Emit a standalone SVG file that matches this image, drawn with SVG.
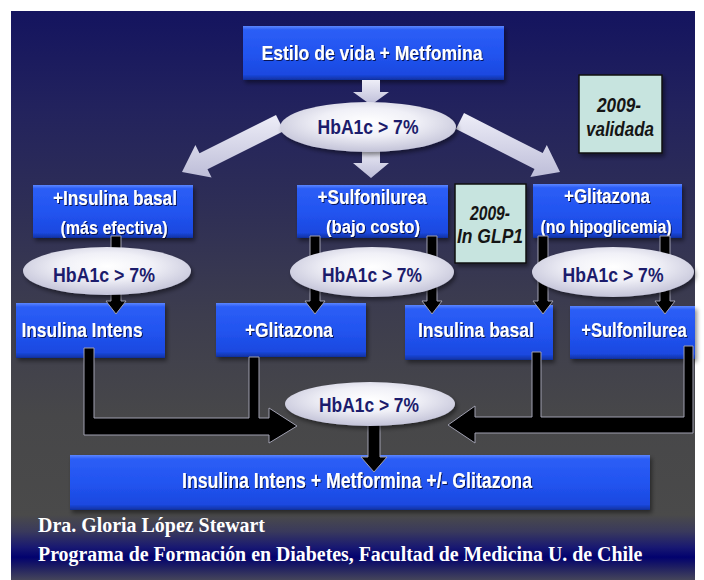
<svg xmlns="http://www.w3.org/2000/svg" width="704" height="580" viewBox="0 0 704 580">
<defs>
<linearGradient id="bg" x1="0" y1="0" x2="0" y2="1">
<stop offset="0" stop-color="#14145f"/>
<stop offset="0.2" stop-color="#23235d"/>
<stop offset="0.4" stop-color="#2f2f55"/>
<stop offset="0.6" stop-color="#3d3d4e"/>
<stop offset="0.8" stop-color="#474749"/>
<stop offset="1" stop-color="#4a4a4a"/>
</linearGradient>
<linearGradient id="band" x1="0" y1="0" x2="0" y2="1">
<stop offset="0" stop-color="#4a4a4a"/>
<stop offset="0.25" stop-color="#3a3a5c"/>
<stop offset="0.5" stop-color="#181872"/>
<stop offset="0.65" stop-color="#02026e"/>
<stop offset="0.8" stop-color="#1e1e62"/>
<stop offset="1" stop-color="#45455a"/>
</linearGradient>
<linearGradient id="blue" x1="0" y1="0" x2="0" y2="1">
<stop offset="0" stop-color="#5a86ff"/>
<stop offset="0.07" stop-color="#2c5ef6"/>
<stop offset="0.5" stop-color="#2254f0"/>
<stop offset="0.9" stop-color="#1b49e0"/>
<stop offset="1" stop-color="#10309e"/>
</linearGradient>
<radialGradient id="ell" cx="0.5" cy="0.4" r="0.62">
<stop offset="0" stop-color="#ffffff"/>
<stop offset="0.45" stop-color="#f0f0f7"/>
<stop offset="1" stop-color="#c0c0d6"/>
</radialGradient>
<linearGradient id="light" x1="0" y1="0" x2="0" y2="1">
<stop offset="0" stop-color="#eeeef8"/>
<stop offset="1" stop-color="#bdbdd8"/>
</linearGradient>
<filter id="sh" x="-10%" y="-15%" width="125%" height="140%">
<feDropShadow dx="2" dy="3" stdDeviation="2" flood-color="#000" flood-opacity="0.45"/>
</filter>
<filter id="ts" x="-5%" y="-20%" width="112%" height="150%">
<feDropShadow dx="1" dy="1" stdDeviation="0.7" flood-color="#000020" flood-opacity="0.75"/>
</filter>
</defs>
<style>
.box{fill:url(#blue);filter:url(#sh)}
.t{font-family:"Liberation Sans Narrow","Liberation Sans",Arial,sans-serif;font-weight:bold;fill:#fff;text-anchor:middle;filter:url(#ts)}
.t1{font-size:21px}
.t2{font-size:18px}
.el{fill:url(#ell);filter:url(#sh)}
.et{font-family:"Liberation Sans Narrow","Liberation Sans",Arial,sans-serif;font-weight:bold;font-size:21px;fill:#1c1c6c;text-anchor:middle}
.note{fill:#c7e4df;stroke:#111;stroke-width:1.5;filter:url(#sh)}
.nt{font-family:"Liberation Sans Narrow","Liberation Sans",Arial,sans-serif;font-weight:bold;font-style:italic;font-size:21px;fill:#151515;text-anchor:middle}
.la{fill:url(#light)}
.ba{fill:#000;stroke:#a0a0b0;stroke-width:1}
.ft{font-family:"Liberation Serif","Times New Roman",serif;font-weight:bold;font-size:22px;fill:#fff}
</style>
<rect x="0" y="0" width="704" height="580" fill="#fff"/>
<rect x="11" y="11" width="684" height="506" fill="url(#bg)"/>
<rect x="11" y="515" width="684" height="65" fill="url(#band)"/>

<g id="n-top">
<rect class="box" x="243" y="26" width="261" height="54"/>
<text class="t" x="372" y="60" font-size="21" textLength="221" lengthAdjust="spacingAndGlyphs">Estilo de vida + Metfomina</text>
</g>
<g id="n-ins-basal">
<rect class="box" x="33" y="185" width="160" height="53"/>
<text class="t t1" x="115" y="205" textLength="124" lengthAdjust="spacingAndGlyphs">+Insulina basal</text>
<text class="t t2" x="114" y="234" textLength="107" lengthAdjust="spacingAndGlyphs">(más efectiva)</text>
</g>
<g id="n-sulfo">
<rect class="box" x="297" y="185" width="151" height="53"/>
<text class="t t1" x="372" y="204" textLength="109" lengthAdjust="spacingAndGlyphs">+Sulfonilurea</text>
<text class="t t2" x="373" y="233" textLength="94" lengthAdjust="spacingAndGlyphs">(bajo costo)</text>
</g>
<g id="n-glit">
<rect class="box" x="533" y="184" width="149" height="54"/>
<text class="t t1" x="607" y="203" textLength="86" lengthAdjust="spacingAndGlyphs">+Glitazona</text>
<text class="t t2" x="606" y="233" textLength="131" lengthAdjust="spacingAndGlyphs">(no hipoglicemia)</text>
</g>
<g id="n-ins-intens">
<rect class="box" x="16" y="303" width="149" height="55"/>
<text class="t t1" x="82" y="337" textLength="121" lengthAdjust="spacingAndGlyphs">Insulina Intens</text>
</g>
<g id="n-glit2">
<rect class="box" x="216" y="303" width="150" height="54"/>
<text class="t t1" x="289" y="337" textLength="88" lengthAdjust="spacingAndGlyphs">+Glitazona</text>
</g>
<g id="n-ins-basal2">
<rect class="box" x="405" y="305" width="148" height="55"/>
<text class="t t1" x="476" y="337" textLength="116" lengthAdjust="spacingAndGlyphs">Insulina basal</text>
</g>
<g id="n-sulfo2">
<rect class="box" x="570" y="306" width="125" height="53"/>
<text class="t t1" transform="translate(634,337) scale(0.8,1)" x="0" y="0" textLength="132" lengthAdjust="spacingAndGlyphs">+Sulfonilurea</text>
</g>
<g id="n-final">
<rect class="box" x="70" y="455" width="580" height="55"/>
<text class="t" x="357" y="488" font-size="22" textLength="350" lengthAdjust="spacingAndGlyphs">Insulina Intens + Metformina +/- Glitazona</text>
</g>

<g id="connectors">
<polygon class="la" points="362,80 380,80 380,92 389,92 371,105 353,92 362,92"/>
<polygon class="la" points="284,131 207.5,169.3 211.6,177.4 182,172 195.4,145.1 199.5,153.2 276,115"/>
<polygon class="la" points="456,129 534.5,169.1 530.4,177.1 560,172 546.8,145.1 542.7,153.1 464,113"/>
<polygon class="la" points="362,148 380,148 380,163 389,163 371,178 353,163 362,163"/>
<polygon class="ba" points="111,236 121,236 121,301 126,301 116,314 106,301 111,301"/>
<polygon class="ba" points="310,236 320,236 320,301 325,301 315,314 305,301 310,301"/>
<polygon class="ba" points="427,236 437,236 437,301 442,301 432,314 422,301 427,301"/>
<polygon class="ba" points="538,236 548,236 548,301 553,301 543,314 533,301 538,301"/>
<polygon class="ba" points="660,236 670,236 670,301 675,301 665,314 655,301 660,301"/>
<polygon class="ba" points="84,348 94,348 94,418 249,418 249,357 259,357 259,418 269,418 269,408 297,426 269,443 269,435 84,435"/>
<polygon class="ba" points="684,346 693,346 693,433 475,433 475,443 448,425 475,406 475,417 532,417 532,352 541,352 541,417 684,417"/>
<polygon class="ba" points="368,424 380,424 380,457 387,457 374,472 361,457 368,457"/>
</g>

<g id="e-top">
<ellipse class="el" cx="368" cy="127" rx="88" ry="25"/>
<text class="et" x="368" y="134" textLength="101" lengthAdjust="spacingAndGlyphs">HbA1c &gt; 7%</text>
</g>
<g id="e-left">
<ellipse class="el" cx="107" cy="271" rx="84" ry="24"/>
<text class="et" x="104" y="282" textLength="102" lengthAdjust="spacingAndGlyphs">HbA1c &gt; 7%</text>
</g>
<g id="e-mid">
<ellipse class="el" cx="372" cy="272" rx="82" ry="25"/>
<text class="et" x="372" y="282" textLength="100" lengthAdjust="spacingAndGlyphs">HbA1c &gt; 7%</text>
</g>
<g id="e-right">
<ellipse class="el" cx="613" cy="272" rx="81" ry="25"/>
<text class="et" x="613" y="282" textLength="101" lengthAdjust="spacingAndGlyphs">HbA1c &gt; 7%</text>
</g>
<g id="e-bottom">
<ellipse class="el" cx="370" cy="404" rx="85" ry="22"/>
<text class="et" x="369" y="412" textLength="100" lengthAdjust="spacingAndGlyphs">HbA1c &gt; 7%</text>
</g>

<g id="note-validada">
<rect class="note" x="579" y="75" width="83" height="78"/>
<text class="nt" x="619" y="112" textLength="44" lengthAdjust="spacingAndGlyphs">2009-</text>
<text class="nt" x="620" y="136" textLength="68" lengthAdjust="spacingAndGlyphs">validada</text>
</g>
<g id="note-glp1">
<rect class="note" x="455" y="184" width="71" height="79"/>
<text class="nt" x="490" y="220" textLength="40" lengthAdjust="spacingAndGlyphs">2009-</text>
<text class="nt" x="490" y="243" textLength="66" lengthAdjust="spacingAndGlyphs">In GLP1</text>
</g>

<g id="footer">
<text class="ft" x="38" y="532" textLength="227" lengthAdjust="spacingAndGlyphs">Dra. Gloria López Stewart</text>
<text class="ft" transform="translate(38,561) scale(0.85,1)" x="0" y="0" textLength="711" lengthAdjust="spacingAndGlyphs">Programa de Formación en Diabetes, Facultad de Medicina U. de Chile</text>
</g>
</svg>
